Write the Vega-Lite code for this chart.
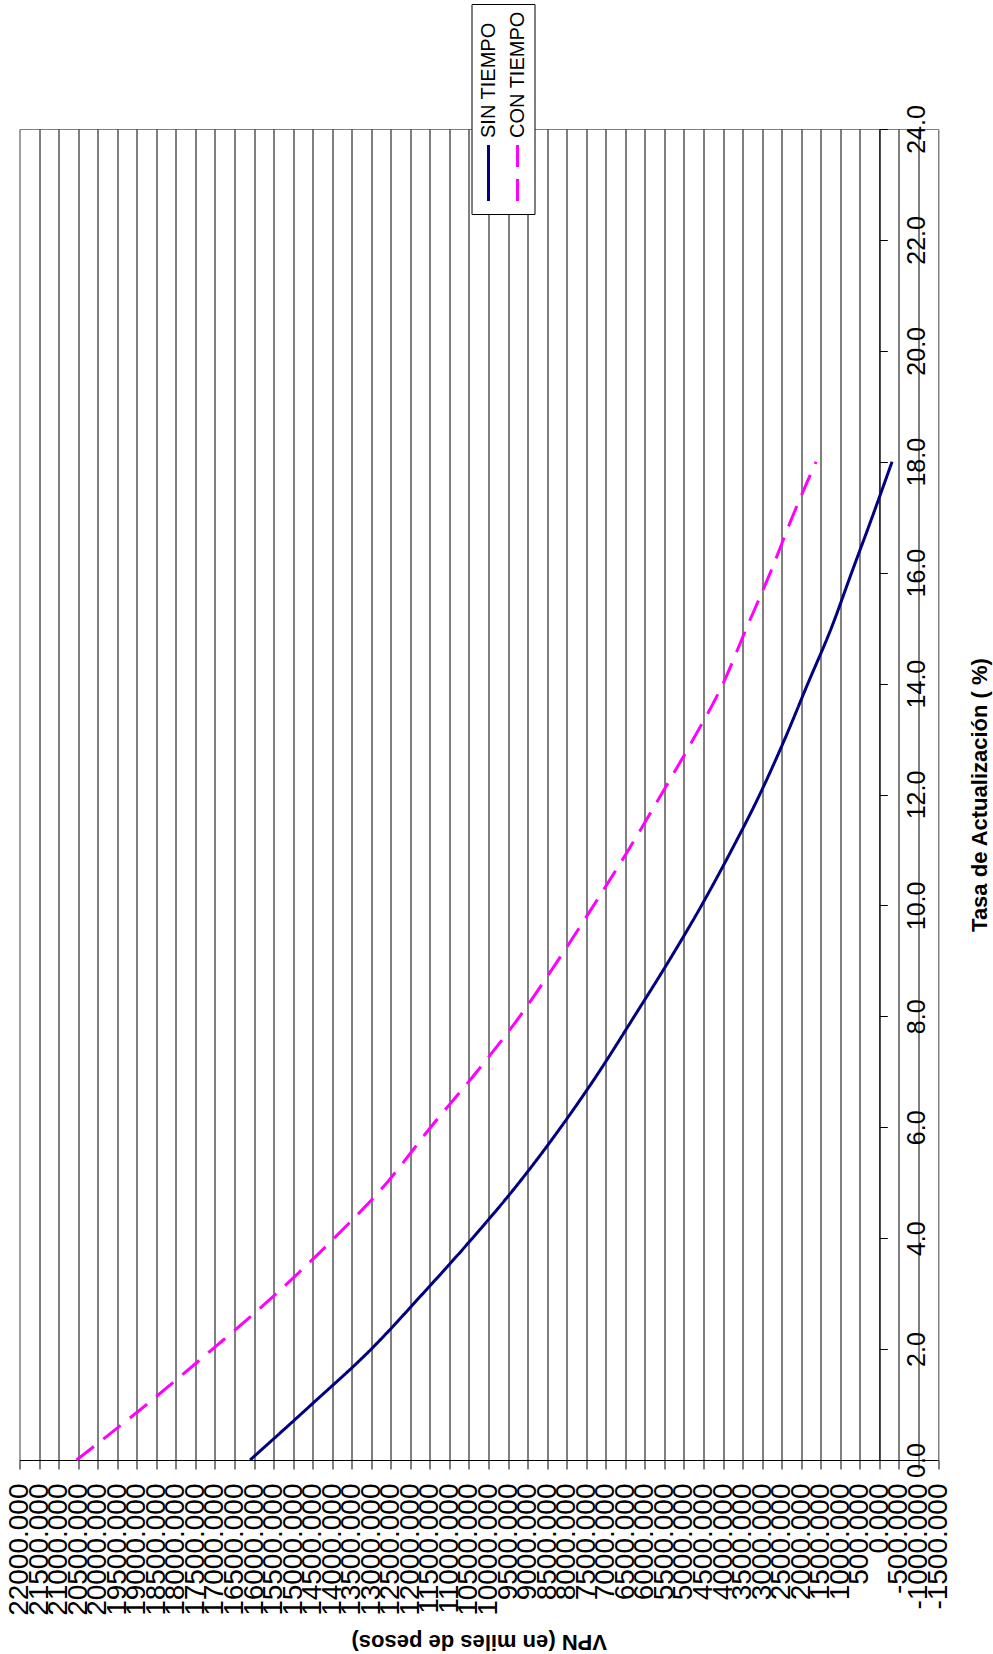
{
  "$schema": "https://vega.github.io/schema/vega-lite/v6.json",
  "width": 918.5,
  "height": 1331,
  "autosize": "none",
  "padding": {"left": 19.5, "top": 129, "right": 55, "bottom": 194},
  "background": "white",
  "config": {
    "locale": {"number": {"decimal": ".", "thousands": ",", "grouping": [3], "currency": ["$", ""], "minus": "-"}},
    "view": {"stroke": "#808080", "strokeWidth": 1},
    "font": "Liberation Sans"
  },
  "data": {
    "values": [
      {"tasa": 0, "vpn": 16100, "serie": "SIN TIEMPO"},
      {"tasa": 1, "vpn": 14530, "serie": "SIN TIEMPO"},
      {"tasa": 2, "vpn": 13000, "serie": "SIN TIEMPO"},
      {"tasa": 3, "vpn": 11680, "serie": "SIN TIEMPO"},
      {"tasa": 4, "vpn": 10410, "serie": "SIN TIEMPO"},
      {"tasa": 5, "vpn": 9220, "serie": "SIN TIEMPO"},
      {"tasa": 6, "vpn": 8150, "serie": "SIN TIEMPO"},
      {"tasa": 7, "vpn": 7170, "serie": "SIN TIEMPO"},
      {"tasa": 8, "vpn": 6270, "serie": "SIN TIEMPO"},
      {"tasa": 9, "vpn": 5385, "serie": "SIN TIEMPO"},
      {"tasa": 10, "vpn": 4550, "serie": "SIN TIEMPO"},
      {"tasa": 11, "vpn": 3780, "serie": "SIN TIEMPO"},
      {"tasa": 12, "vpn": 3060, "serie": "SIN TIEMPO"},
      {"tasa": 13, "vpn": 2420, "serie": "SIN TIEMPO"},
      {"tasa": 14, "vpn": 1830, "serie": "SIN TIEMPO"},
      {"tasa": 15, "vpn": 1230, "serie": "SIN TIEMPO"},
      {"tasa": 16, "vpn": 710, "serie": "SIN TIEMPO"},
      {"tasa": 17, "vpn": 185, "serie": "SIN TIEMPO"},
      {"tasa": 18, "vpn": -325, "serie": "SIN TIEMPO"},
      {"tasa": 0, "vpn": 20540, "serie": "CON TIEMPO"},
      {"tasa": 1, "vpn": 18750, "serie": "CON TIEMPO"},
      {"tasa": 2, "vpn": 17060, "serie": "CON TIEMPO"},
      {"tasa": 3, "vpn": 15430, "serie": "CON TIEMPO"},
      {"tasa": 4, "vpn": 13950, "serie": "CON TIEMPO"},
      {"tasa": 5, "vpn": 12600, "serie": "CON TIEMPO"},
      {"tasa": 6, "vpn": 11480, "serie": "CON TIEMPO"},
      {"tasa": 7, "vpn": 10300, "serie": "CON TIEMPO"},
      {"tasa": 8, "vpn": 9200, "serie": "CON TIEMPO"},
      {"tasa": 9, "vpn": 8230, "serie": "CON TIEMPO"},
      {"tasa": 10, "vpn": 7310, "serie": "CON TIEMPO"},
      {"tasa": 11, "vpn": 6420, "serie": "CON TIEMPO"},
      {"tasa": 12, "vpn": 5580, "serie": "CON TIEMPO"},
      {"tasa": 13, "vpn": 4760, "serie": "CON TIEMPO"},
      {"tasa": 14, "vpn": 4000, "serie": "CON TIEMPO"},
      {"tasa": 15, "vpn": 3400, "serie": "CON TIEMPO"},
      {"tasa": 16, "vpn": 2790, "serie": "CON TIEMPO"},
      {"tasa": 17, "vpn": 2230, "serie": "CON TIEMPO"},
      {"tasa": 18, "vpn": 1620, "serie": "CON TIEMPO"}
    ]
  },
  "mark": {"type": "line", "strokeWidth": 3, "interpolate": "monotone"},
  "encoding": {
    "x": {
      "field": "vpn",
      "type": "quantitative",
      "scale": {"domain": [-1500, 22000], "reverse": true, "nice": false, "zero": false},
      "axis": {
        "orient": "bottom",
        "values": [-1500, -1000, -500, 0, 500, 1000, 1500, 2000, 2500, 3000, 3500, 4000, 4500, 5000, 5500, 6000, 6500, 7000, 7500, 8000, 8500, 9000, 9500, 10000, 10500, 11000, 11500, 12000, 12500, 13000, 13500, 14000, 14500, 15000, 15500, 16000, 16500, 17000, 17500, 18000, 18500, 19000, 19500, 20000, 20500, 21000, 21500, 22000],
        "format": ".3f",
        "labelAngle": -90,
        "labelAlign": "right",
        "labelBaseline": "middle",
        "labelFont": "Liberation Sans",
        "labelFontSize": 28,
        "labelColor": "black",
        "labelPadding": 14,
        "labelOverlap": false,
        "labelFlush": false,
        "labelBound": false,
        "labelLimit": 0,
        "tickSize": 9,
        "tickColor": "black",
        "domainColor": "black",
        "domainWidth": 1,
        "grid": true,
        "gridColor": {"condition": {"test": "datum.value === 22000 || datum.value === -1500", "value": "#808080"}, "value": "black"},
        "gridWidth": 1,
        "gridOpacity": 1,
        "title": "VPN (en miles de pesos)",
        "titleFont": "Liberation Sans",
        "titleAngle": 180,
        "titleFontSize": 22,
        "titleFontWeight": "bold",
        "titleColor": "black",
        "titleAlign": "center",
        "titleBaseline": "middle",
        "titleX": 459.25,
        "titleY": 181
      }
    },
    "y": {
      "field": "tasa",
      "type": "quantitative",
      "scale": {"domain": [0, 24], "nice": false, "zero": false},
      "axis": {
        "orient": "right",
        "offset": -58.63,
        "values": [0, 2, 4, 6, 8, 10, 12, 14, 16, 18, 20, 22, 24],
        "format": ".1f",
        "labelAngle": -90,
        "labelAlign": "center",
        "labelBaseline": "middle",
        "labelFont": "Liberation Sans",
        "labelFontSize": 25,
        "labelColor": "black",
        "labelPadding": 29,
        "labelOverlap": false,
        "labelFlush": false,
        "labelBound": false,
        "tickSize": 8,
        "tickColor": "black",
        "domainColor": "black",
        "grid": false,
        "title": "Tasa de Actualización ( %)",
        "titleFont": "Liberation Sans",
        "titleAngle": -90,
        "titleFontSize": 22,
        "titleFontWeight": "bold",
        "titleColor": "black",
        "titleAlign": "center",
        "titleBaseline": "middle",
        "titleX": 100,
        "titleY": 665.5
      }
    },
    "color": {
      "field": "serie",
      "type": "nominal",
      "scale": {"domain": ["SIN TIEMPO", "CON TIEMPO"], "range": ["#000080", "#FF00FF"]},
      "legend": {
        "title": null,
        "orient": "none",
        "legendX": 452,
        "legendY": -125,
        "direction": "horizontal",
        "columns": 2,
        "columnPadding": 9,
        "padding": 7,
        "fillColor": "white",
        "strokeColor": "black",
        "symbolType": "M0,-1L0,1",
        "symbolSize": 3136,
        "symbolStrokeWidth": 3,
        "symbolFillColor": "transparent",
        "labelFont": "Liberation Sans",
        "labelFontSize": 20,
        "labelColor": "black",
        "labelLimit": 0,
        "encode": {
          "symbols": {"update": {"x": {"value": 10}, "y": {"value": 162}}},
          "labels": {"update": {"x": {"value": 10}, "y": {"value": 127}, "angle": {"value": -90}, "align": {"value": "left"}, "baseline": {"value": "middle"}}}
        }
      }
    },
    "strokeDash": {
      "field": "serie",
      "type": "nominal",
      "scale": {"domain": ["SIN TIEMPO", "CON TIEMPO"], "range": [[1, 0], [22, 12]]},
      "legend": {
        "title": null,
        "orient": "none",
        "legendX": 452,
        "legendY": -125,
        "direction": "horizontal",
        "columns": 2,
        "columnPadding": 9,
        "padding": 7,
        "fillColor": "white",
        "strokeColor": "black",
        "symbolType": "M0,-1L0,1",
        "symbolSize": 3136,
        "symbolStrokeWidth": 3,
        "symbolFillColor": "transparent",
        "labelFont": "Liberation Sans",
        "labelFontSize": 20,
        "labelColor": "black",
        "labelLimit": 0,
        "encode": {
          "symbols": {"update": {"x": {"value": 10}, "y": {"value": 162}}},
          "labels": {"update": {"x": {"value": 10}, "y": {"value": 127}, "angle": {"value": -90}, "align": {"value": "left"}, "baseline": {"value": "middle"}}}
        }
      }
    },
    "order": {"field": "tasa", "type": "quantitative"}
  }
}
